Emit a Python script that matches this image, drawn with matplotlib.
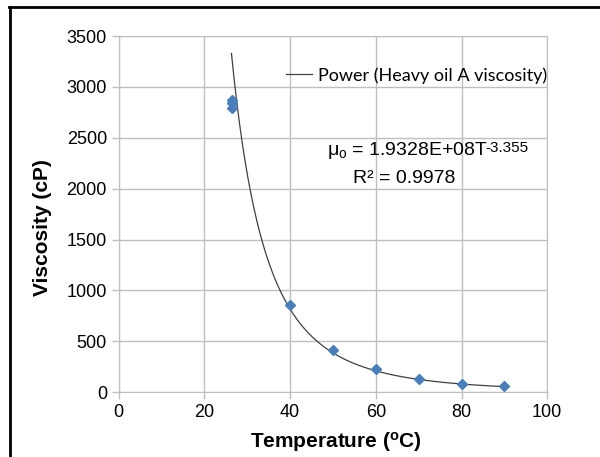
import numpy as np
import matplotlib.pyplot as plt
from matplotlib.lines import Line2D

plt.rcParams['font.family'] = ['Liberation Sans', 'DejaVu Sans']
plt.rcParams['mathtext.fontset'] = 'custom'
plt.rcParams['mathtext.rm'] = 'Liberation Sans'
plt.rcParams['mathtext.bf'] = 'Liberation Sans:bold'

# datos
temperatura = [26.5, 26.5, 26.5, 40, 50, 60, 70, 80, 90]
viscosidad = [2870, 2840, 2795, 858, 413, 223, 128, 82, 56]

# ajuste potencial (Excel)
coef_a = 1.9328e8
coef_b = -3.355
r2 = 0.9978
t_min, t_max = 26.3, 90

azul = '#4a7ebb'
gris = '#bfbfbf'

fig = plt.figure(figsize=(6, 4.57), dpi=100)
ax = fig.add_axes([0.198, 0.142, 0.714, 0.779])

t_fit = np.linspace(t_min, t_max, 300)
ax.plot(t_fit, coef_a * t_fit ** coef_b, color='#404040', lw=0.9,
        label='Power (Heavy oil A viscosity)', zorder=2)
ax.plot(temperatura, viscosidad, linestyle='none', marker='D', markersize=5.5,
        color=azul, zorder=3)

ax.set_xlim(0, 100)
ax.set_ylim(0, 3500)
ax.set_xticks(range(0, 101, 20))
ax.set_yticks(range(0, 3501, 500))
ax.grid(True, color=gris, lw=1)
ax.set_axisbelow(True)
for s in ax.spines.values():
    s.set_color(gris)
ax.tick_params(colors=gris, labelcolor='black', labelsize=13, length=5, width=1)

ax.set_xlabel(r'Temperature ($\mathbf{^o}$C)', fontsize=15, fontweight='bold')
ax.set_ylabel('Viscosity (cP)', fontsize=15, fontweight='bold')
ax.xaxis.set_label_coords(0.508, -0.140)
ax.xaxis.label.set_verticalalignment('center')
ax.yaxis.set_label_coords(-0.178, 0.463)
ax.yaxis.label.set_verticalalignment('center')

ax.legend(loc='center right', bbox_to_anchor=(1.0, 0.89), frameon=False,
          handlelength=1.45, handletextpad=0.35, borderaxespad=0, borderpad=0,
          prop={'family': 'Lato', 'size': 13})

eq = ax.text(48.6, 2379, r'$\mathregular{\mu_o}$ = 1.9328E+08T',
             fontsize=14, va='center', ha='left')
ax.annotate('-3.355', xy=(1, 0.92), xycoords=eq, xytext=(-1.5, 0),
            textcoords='offset points', fontsize=11, va='top', ha='left')
ax.text(54.7, 2104, f'R² = {r2}', fontsize=14, va='center', ha='left')

# borde del recorte
fig.add_artist(Line2D([0.015, 1.0], [0.984, 0.984], color='black', lw=2,
                      transform=fig.transFigure))
fig.add_artist(Line2D([0.016, 0.016], [0.0, 0.984], color='black', lw=2,
                      transform=fig.transFigure))

plt.savefig('out.png', dpi=100)
plt.close()
